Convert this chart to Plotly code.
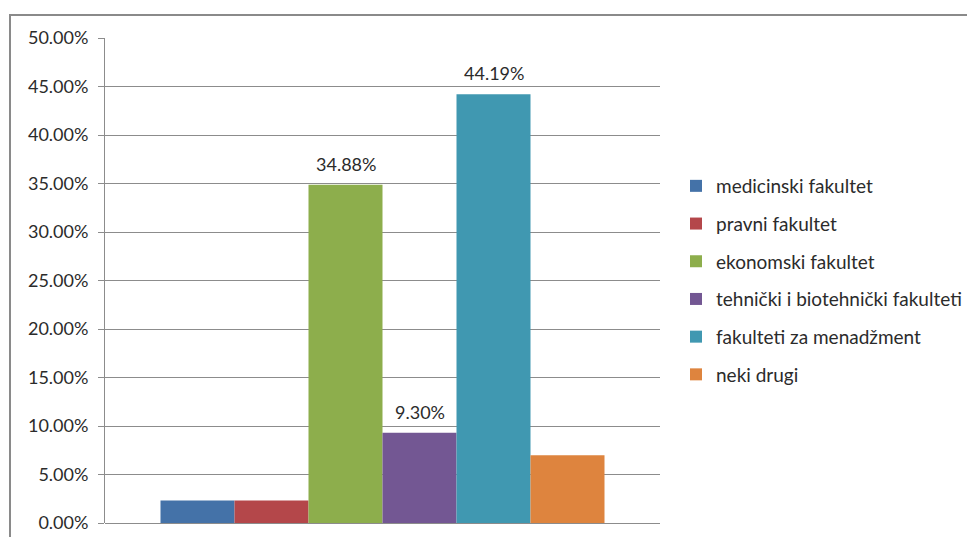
import plotly.graph_objects as go

series = ["medicinski fakultet", "pravni fakultet", "ekonomski fakultet",
          "tehnički i biotehnički fakulteti", "fakulteti za menadžment", "neki drugi"]
values = [0.0233, 0.0233, 0.3488, 0.0930, 0.4419, 0.0698]
labels = ["", "", "34.88%", "9.30%", "44.19%", ""]
colors = ["#4472A8", "#B4474A", "#8DAE4C", "#735793", "#4098B1", "#DE843E"]
positions = [0, 1, 2, 3, 4, 5]

FONT = "Lato"
TXT = "#2b2b2b"
GRID = "#8c8c8c"

fig = go.Figure()
for i, (name, v, c) in enumerate(zip(series, values, colors)):
    fig.add_trace(go.Bar(
        x=[positions[i]], y=[v], name=name, width=1,
        marker=dict(color=c, line=dict(width=0)),
        legendgroup=f"g{i}", hoverinfo="skip",
    ))
    if labels[i]:
        fig.add_annotation(x=positions[i], y=v, text=labels[i], showarrow=False,
                           yanchor="bottom", yshift=8,
                           font=dict(family=FONT, size=18, color=TXT))

W, H = 967, 537
L, R, T, B = 105, 307, 38, 14
pw, ph = W - L - R, H - T - B

def px(x):
    return (x - L) / pw

def py(y):
    return (H - B - y) / ph

fig.add_shape(type="rect", xref="paper", yref="paper",
              x0=px(10), x1=px(975), y0=py(545), y1=py(15),
              line=dict(color="#8a8a8a", width=2), layer="below")

fig.update_layout(
    width=W, height=H,
    margin=dict(l=L, r=R, t=T, b=B, autoexpand=False),
    paper_bgcolor="white", plot_bgcolor="white",
    barmode="overlay",
    font=dict(family=FONT, size=18, color=TXT),
    showlegend=True,
    legend=dict(x=px(676), xanchor="left", y=0.5, yanchor="middle",
                tracegroupgap=10, font=dict(family=FONT, size=19, color=TXT),
                bgcolor="rgba(0,0,0,0)"),
    xaxis=dict(range=[-1.25, 6.25], showticklabels=False, showgrid=False,
               zeroline=False, showline=False, ticks="", automargin=False),
    yaxis=dict(range=[0, 0.5], dtick=0.05, tickformat=".2%",
               showgrid=True, gridcolor=GRID, gridwidth=1,
               zeroline=True, zerolinecolor=GRID, zerolinewidth=1,
               showline=True, linecolor=GRID, linewidth=1,
               ticks="outside", ticklen=6, tickcolor=GRID,
               ticklabelstandoff=6, automargin=False,
               tickfont=dict(family=FONT, size=18, color=TXT)),
)

fig.write_html("out.html")
